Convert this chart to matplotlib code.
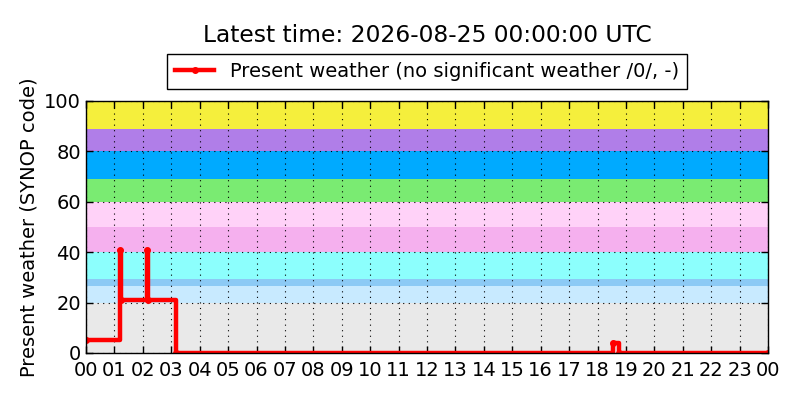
import matplotlib
matplotlib.use("Agg")
import matplotlib.pyplot as plt
from matplotlib.ticker import FuncFormatter

# Present weather (SYNOP ww code) change points, hours since 00 UTC
times = [0.0, 1.2, 1.24, 2.13, 2.17, 3.15, 18.54, 18.75, 24.0]
codes = [5, 41, 21, 41, 21, 0, 4, 0, 0]

# background bands for SYNOP code groups
band_lo = [0, 20, 26.5, 29.5, 40, 50, 60, 69, 80, 89]
band_hi = [20, 26.5, 29.5, 40, 50, 60, 69, 80, 89, 100]
band_colors = ['#e9e9e9', '#c8eaff', '#8ccaf5', '#8cfffd', '#f5b0ee',
               '#ffd2f8', '#7aeb72', '#00aaff', '#b07ee8', '#f5ef3c']

hour_ticks = list(range(25))

fig = plt.figure(figsize=(8, 4), dpi=100)
ax = fig.add_axes([0.1075, 0.1175, 0.8525, 0.63])

for lo, hi, c in zip(band_lo, band_hi, band_colors):
    ax.axhspan(lo, hi, color=c, lw=0, zorder=0)

ax.plot(times, codes, color='red', lw=3.2, marker='o', markersize=4,
        markeredgecolor='red', drawstyle='steps-post', zorder=3,
        label='Present weather (no significant weather /0/, -)')

ax.set_xlim(0, 24)
ax.set_ylim(0, 100)
ax.set_xticks(hour_ticks)
ax.xaxis.set_major_formatter(FuncFormatter(lambda v, p: '%02d' % (int(v) % 24)))
ax.set_yticks([0, 20, 40, 60, 80, 100])
ax.tick_params(axis='x', pad=6)
ax.tick_params(direction='in', top=True, right=True, labelsize=14, length=5, width=1)
ax.grid(True, color='black', linestyle=(0, (1, 4)), linewidth=0.8, zorder=1)
ax.set_axisbelow(False)
for s in ax.spines.values():
    s.set_linewidth(1)
    s.set_zorder(4)
ax.set_ylabel('Present weather (SYNOP code)', fontsize=14, labelpad=4)

fig.text(0.534, 0.91, 'Latest time: 2026-08-25 00:00:00 UTC', ha='center', va='center', fontsize=16.8)
ax.legend(loc='lower center', bbox_to_anchor=(0.5, 1.048), borderaxespad=0, fontsize=14,
          frameon=True, fancybox=False, edgecolor='black', borderpad=0.4,
          handlelength=2.0, framealpha=1)

fig.savefig('out.png', dpi=100)
